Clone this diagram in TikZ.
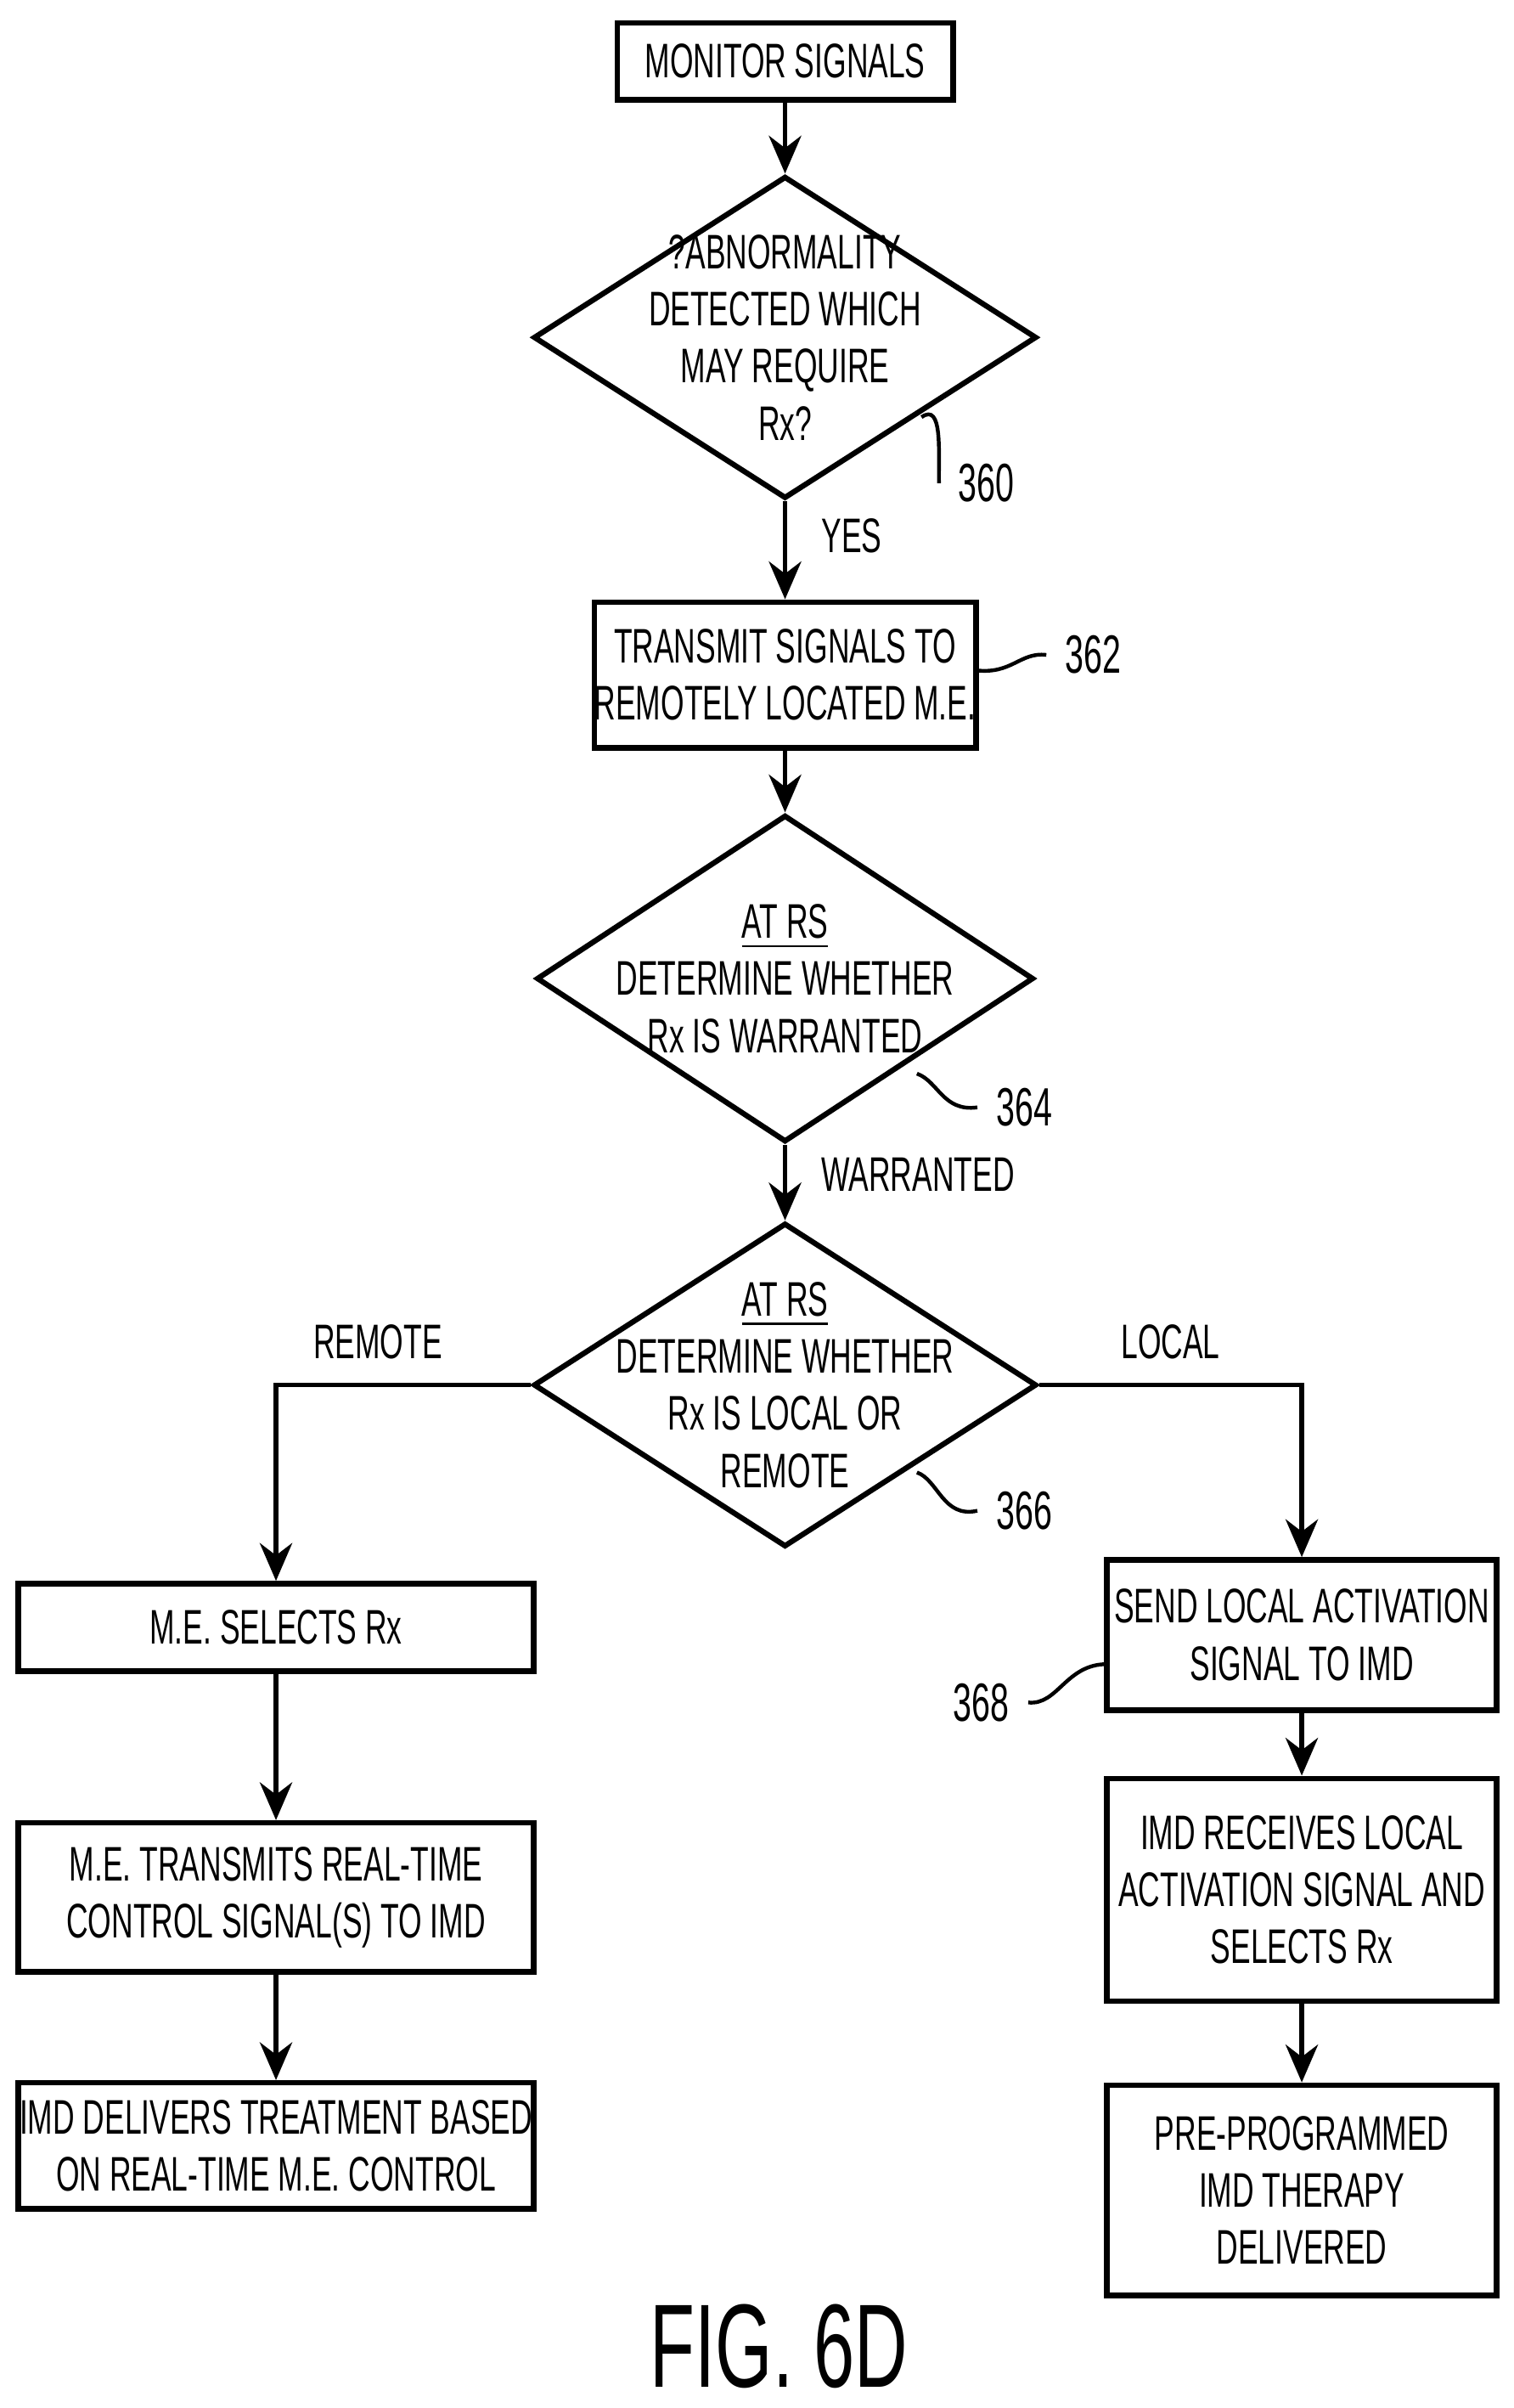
\documentclass[tikz,border=0pt]{standalone}
\usepackage{fontspec}
\setmainfont{Liberation Sans}[FakeStretch=0.62]
\usetikzlibrary{positioning,arrows.meta,shapes.geometric}
\begin{document}
\begin{tikzpicture}[x=0.01cm,y=-0.01cm,
    box/.style={draw, line width=1pt, align=center, inner sep=0pt, font=\fontsize{9}{10.6}\selectfont},
    decision/.style={draw, diamond, line width=1pt, inner sep=0pt},
    txt/.style={align=center, font=\fontsize{9}{10.6}\selectfont},
    arrow/.style={-{Stealth[length=7pt,width=6pt]}, line width=0.9pt},
    ref/.style={font=\fontsize{10}{12}\selectfont},
    lead/.style={line width=0.7pt}
]
\useasboundingbox (0,0) rectangle (987,1570);

% Top of the chart
\node[box, minimum width=2.19cm, minimum height=0.5cm] (monitor) at (512,40) {MONITOR SIGNALS};
\node[decision, minimum width=3.28cm, minimum height=2.1cm] (d360) at (512,220) {};
\node[txt] at (d360.center) {?ABNORMALITY\\DETECTED WHICH\\MAY REQUIRE\\Rx?};
\node[box, minimum width=2.48cm, minimum height=0.95cm] (transmit) at (512,440) {TRANSMIT SIGNALS TO\\REMOTELY LOCATED M.E.};
\node[decision, minimum width=3.24cm, minimum height=2.13cm] (d364) at (512,638) {};
\node[txt] at (d364.center) {\underline{AT RS}\\DETERMINE WHETHER\\Rx IS WARRANTED};
\node[decision, minimum width=3.28cm, minimum height=2.11cm] (d366) at (512,903) {};
\node[txt] at (d366.center) {\underline{AT RS}\\DETERMINE WHETHER\\Rx IS LOCAL OR\\REMOTE};

% Remote branch
\node[box, minimum width=3.36cm, minimum height=0.57cm] (select) at (180,1061) {M.E. SELECTS Rx};
\node[box, minimum width=3.36cm, minimum height=0.97cm] (realtime) at (180,1237) {M.E. TRANSMITS REAL-TIME\\CONTROL SIGNAL(S) TO IMD};
\node[box, minimum width=3.36cm, minimum height=0.82cm] (delivers) at (180,1399) {IMD DELIVERS TREATMENT BASED\\ON REAL-TIME M.E. CONTROL};

% Local branch
\node[box, minimum width=2.54cm, minimum height=0.98cm] (sendlocal) at (849,1066) {SEND LOCAL ACTIVATION\\SIGNAL TO IMD};
\node[box, minimum width=2.54cm, minimum height=1.45cm] (receives) at (849,1232) {IMD RECEIVES LOCAL\\ACTIVATION SIGNAL AND\\SELECTS Rx};
\node[box, minimum width=2.54cm, minimum height=1.37cm] (preprog) at (849,1428) {PRE-PROGRAMMED\\IMD THERAPY\\DELIVERED};

% Connectors
\draw[arrow] (monitor) -- (d360);
\draw[arrow] (d360) -- (transmit) node[pos=0.35, right=3pt, txt] {YES};
\draw[arrow] (transmit) -- (d364);
\draw[arrow] (d364) -- (d366) node[pos=0.4, right=3pt, txt] {WARRANTED};
\draw[arrow] (d366.west) -| (select.north) node[pos=0.3, above=1pt, txt] {REMOTE};
\draw[arrow] (d366.east) -| (sendlocal.north) node[pos=0.25, above=1pt, txt] {LOCAL};
\draw[arrow] (select) -- (realtime);
\draw[arrow] (realtime) -- (delivers);
\draw[arrow] (sendlocal) -- (receives);
\draw[arrow] (receives) -- (preprog);

% Reference numerals
\node[ref] (n360) at (643,315) {360};
\draw[lead] (601,272) .. controls (615,262) and (612,295) .. (n360.west);
\node[ref] (n362) at (713,427) {362};
\draw[lead] (636,437) .. controls (660,440) and (665,425) .. (n362.west);
\node[ref] (n364) at (668,722) {364};
\draw[lead] (598,700) .. controls (612,705) and (615,725) .. (n364.west);
\node[ref] (n366) at (668,985) {366};
\draw[lead] (598,960) .. controls (612,965) and (615,990) .. (n366.west);
\node[ref] (n368) at (640,1110) {368};
\draw[lead] (n368.east) .. controls (690,1112) and (695,1085) .. (722,1085);

\node[font=\fontsize{22}{26}\selectfont] (fig) at (508,1530) {FIG. 6D};
\end{tikzpicture}
\end{document}
